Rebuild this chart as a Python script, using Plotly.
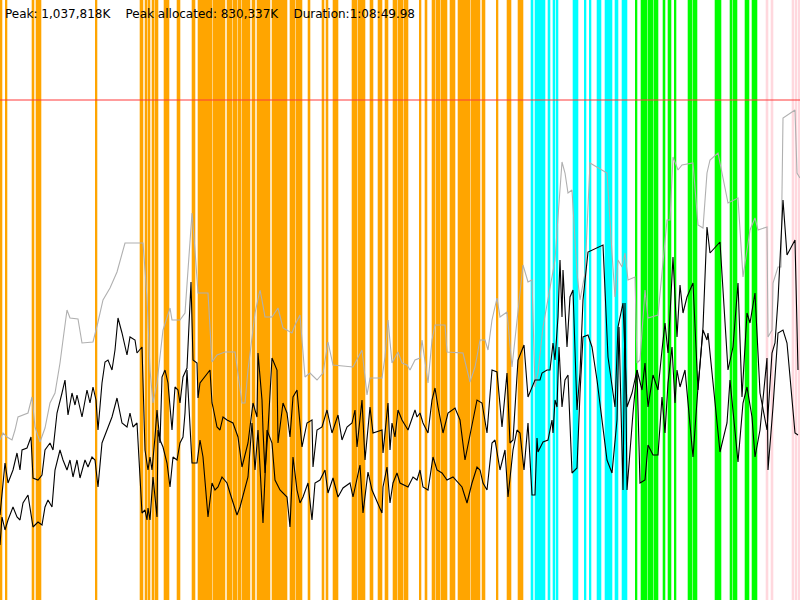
import plotly.graph_objects as go

# ---- event bands (start, end) in timeline units (0..800) ----
orange_start = [0, 6, 32, 36, 96, 140, 145, 148, 152, 155, 164, 177, 192, 198,
                213, 227, 233, 238, 242, 252, 257, 272, 290, 296,
                308, 322, 326, 333, 352, 358, 370, 378, 385, 393, 398,
                404, 420, 425, 432, 436, 441, 450, 458, 471, 482, 497, 507, 518]
orange_end = [2, 7, 34, 41, 97, 143, 147, 150, 154, 158, 169, 180, 195, 212,
              225, 232, 237, 241, 250, 255, 270, 287, 295, 302,
              310, 324, 328, 338, 357, 365, 373, 382, 388, 397, 403,
              408, 421, 427, 435, 440, 447, 455, 470, 480, 485, 498, 511, 523]
cyan_start = [531, 535, 548, 553, 557, 573, 585, 590, 597, 605, 615, 622]
cyan_end = [533, 545, 550, 555, 558, 578, 586, 591, 601, 612, 618, 627]
green_start = [636, 641, 648, 654, 663, 668, 675, 688, 693, 715, 730, 733, 745, 752]
green_end = [637, 647, 653, 658, 665, 671, 676, 692, 697, 721, 732, 737, 749, 757]
pink_start = [766, 771, 792, 796, 799]
pink_end = [768, 773, 794, 797, 800]

# ---- memory series (timeline x, level measured downward from top) ----
gray_x = [0, 3, 7, 12, 15, 18, 28, 32, 35, 40, 45, 50, 55, 60, 63, 67, 70, 78, 82, 93, 98, 103, 110, 117, 125,
          143, 147, 150, 153, 157, 163, 170, 172, 180, 185, 189, 192, 195, 198, 208, 212, 217, 225, 235, 242,
          245, 248, 255, 258, 260, 262, 265, 272, 278, 283, 292, 295, 300, 305, 310, 317, 323, 328, 333, 353, 362,
          367, 370, 382, 385, 388, 392, 398, 402, 407, 410, 415, 420, 422, 428, 432, 435, 445, 447, 463, 470,
          475, 480, 485, 488, 492, 497, 500, 507, 512, 518, 523, 528, 532, 535, 538, 543, 550, 555, 558, 562,
          565, 568, 572, 577, 580, 585, 590, 603, 607, 612, 615, 618, 622, 625, 628, 635, 637, 640, 645, 648,
          658, 667, 670, 673, 678, 682, 693, 698, 703, 707, 710, 718, 728, 738, 743, 750, 755, 758, 767, 768,
          772, 773, 778, 781, 783, 795, 797, 800]
gray_y = [440, 433, 437, 440, 430, 417, 413, 397, 427, 442, 428, 403, 393, 363, 340, 310, 318, 319, 343, 342, 322, 300, 288, 272, 243,
          243, 297, 370, 403, 383, 330, 308, 320, 320, 313, 250, 213, 250, 293, 293, 362, 355, 352, 352, 403,
          403, 370, 313, 300, 290, 300, 317, 317, 308, 328, 333, 325, 315, 377, 373, 380, 373, 342, 365, 367, 350,
          395, 378, 378, 357, 320, 363, 352, 363, 365, 370, 360, 358, 340, 383, 340, 325, 325, 352, 353, 382,
          367, 340, 340, 350, 320, 298, 317, 312, 367, 312, 265, 282, 280, 387, 373, 327, 290, 260, 217, 162,
          173, 193, 190, 273, 300, 273, 163, 170, 173, 253, 297, 260, 267, 253, 280, 277, 363, 360, 290, 318,
          315, 220, 220, 157, 170, 165, 163, 225, 228, 173, 160, 153, 203, 198, 277, 230, 218, 230, 227, 337,
          330, 283, 267, 267, 118, 110, 173, 178]

upper_x = [0, 5, 8, 13, 17, 20, 22, 27, 31, 33, 38, 42, 45, 50, 53, 57, 62, 65, 68, 72, 75, 77, 82, 87, 90, 93, 96,
           98, 102, 105, 108, 112, 115, 118, 122, 127, 130, 135, 137, 142, 145, 148, 150, 152, 155, 157, 160,
           162, 165, 168, 172, 175, 178, 180, 183, 187, 191, 193, 197, 198, 200, 210, 212, 213, 217, 220, 223,
           227, 233, 238, 242, 248, 253, 257, 258, 262, 263, 265, 268, 272, 277, 278, 283, 287, 290, 293, 297,
           302, 307, 312, 313, 317, 322, 327, 332, 338, 342, 347, 352, 355, 357, 362, 365, 370, 373, 382, 383,
           388, 390, 392, 395, 398, 402, 408, 415, 417, 420, 423, 428, 432, 435, 438, 443, 448, 455, 460, 465,
           472, 477, 482, 487, 492, 497, 502, 507, 510, 513, 518, 524, 528, 532, 535, 540, 542, 547, 550, 553,
           555, 558, 560, 562, 563, 567, 570, 573, 577, 580, 583, 588, 603, 608, 615, 618, 623, 627, 632, 637,
           642, 645, 648, 653, 658, 662, 665, 668, 671, 673, 677, 680, 683, 687, 693, 698, 703, 707, 710, 720,
           728, 733, 738, 742, 747, 750, 755, 760, 767, 772, 775, 778, 783, 787, 795, 798]
upper_y = [515, 463, 483, 470, 453, 470, 450, 448, 437, 478, 480, 475, 450, 443, 450, 413, 393, 380, 415, 393, 405, 395, 417, 390, 403, 387, 400,
           430, 383, 362, 360, 370, 350, 318, 333, 355, 337, 340, 353, 347, 450, 470, 457, 470, 437, 410, 443,
           377, 370, 383, 430, 387, 390, 403, 377, 368, 282, 360, 363, 398, 383, 370, 403, 407, 427, 430, 417,
           420, 423, 437, 467, 443, 403, 417, 353, 400, 430, 473, 430, 358, 370, 443, 403, 413, 437, 397, 390,
           447, 423, 420, 467, 430, 427, 410, 433, 415, 440, 427, 423, 410, 447, 400, 460, 407, 433, 430, 453,
           403, 450, 423, 437, 410, 420, 430, 410, 417, 413, 423, 433, 400, 388, 407, 433, 413, 408, 420, 460,
           427, 400, 403, 433, 370, 372, 427, 373, 443, 440, 360, 345, 397, 387, 380, 380, 373, 370, 370, 343,
           360, 317, 260, 317, 270, 347, 297, 290, 410, 373, 300, 252, 245, 357, 407, 327, 303, 407, 393, 370,
           390, 363, 407, 375, 390, 350, 323, 353, 297, 257, 337, 285, 313, 297, 283, 390, 327, 227, 253, 242,
           370, 347, 283, 397, 313, 323, 293, 393, 430, 353, 343, 300, 200, 255, 240, 370]

lower_x = [0, 2, 5, 8, 13, 17, 20, 23, 28, 33, 38, 42, 45, 48, 52, 55, 60, 63, 67, 70, 73, 77, 80, 85, 88, 92, 95,
           98, 102, 107, 112, 117, 122, 127, 130, 133, 137, 142, 145, 147, 148, 150, 153, 157, 158, 160, 163,
           167, 170, 173, 177, 180, 183, 185, 187, 192, 197, 200, 203, 208, 212, 215, 218, 222, 227, 230, 237,
           240, 245, 248, 252, 255, 258, 263, 267, 272, 275, 280, 287, 290, 293, 297, 300, 303, 308, 312, 315,
           320, 325, 328, 333, 338, 343, 350, 353, 360, 363, 368, 372, 375, 382, 383, 387, 390, 393, 397, 400,
           408, 413, 417, 420, 423, 428, 433, 437, 442, 447, 453, 462, 467, 472, 477, 480, 483, 487, 492, 495,
           500, 505, 508, 513, 517, 520, 524, 528, 532, 535, 537, 538, 543, 548, 552, 553, 555, 557, 559, 562,
           565, 568, 572, 577, 580, 583, 588, 592, 597, 607, 612, 617, 619, 623, 625, 627, 633, 637, 640, 645,
           648, 653, 658, 662, 665, 668, 672, 675, 677, 680, 685, 693, 698, 703, 707, 708, 720, 727, 730, 738,
           743, 747, 752, 755, 760, 767, 768, 773, 778, 783, 787, 795, 798]
lower_y = [545, 517, 530, 520, 507, 517, 520, 503, 495, 527, 522, 525, 507, 500, 507, 470, 450, 460, 470, 460, 477, 460, 478, 460, 467, 457, 460,
           487, 443, 430, 417, 398, 423, 427, 413, 427, 423, 513, 510, 520, 508, 520, 477, 517, 430, 440, 447,
           463, 487, 457, 460, 443, 437, 413, 370, 463, 463, 440, 457, 517, 483, 490, 487, 477, 483, 493, 515,
           507, 487, 477, 423, 470, 430, 523, 430, 443, 480, 490, 497, 527, 457, 490, 503, 497, 483, 520, 483,
           480, 470, 493, 478, 497, 488, 483, 497, 465, 513, 472, 490, 497, 513, 487, 467, 503, 483, 473, 483,
           487, 477, 480, 470, 487, 490, 457, 470, 473, 480, 477, 487, 503, 483, 467, 470, 483, 490, 443, 440,
           470, 450, 497, 450, 430, 433, 470, 423, 495, 495, 438, 452, 442, 440, 420, 433, 400, 407, 347, 407,
           380, 375, 473, 468, 393, 337, 335, 347, 380, 460, 473, 420, 327, 490, 303, 490, 413, 370, 483, 480,
           445, 455, 455, 397, 433, 383, 347, 403, 370, 387, 370, 457, 387, 330, 340, 333, 452, 423, 380, 462,
           403, 387, 417, 457, 430, 358, 470, 407, 333, 330, 343, 433, 435]

limit_level = 100
timeline = [0, 800]

title_text = "Peak: 1,037,818K\u00a0\u00a0\u00a0 Peak allocated: 830,337K\u00a0\u00a0\u00a0 Duration:1:08:49.98"

fig = go.Figure()


def band_trace(starts, ends, color):
    centers = [(s + e) / 2 for s, e in zip(starts, ends)]
    widths = [max(e - s, 1) + 0.6 for s, e in zip(starts, ends)]
    return go.Bar(x=centers, width=widths, y=[600] * len(starts), base=0,
                  marker=dict(color=color, line=dict(width=0)),
                  hoverinfo="skip", showlegend=False)


fig.add_trace(band_trace(orange_start, orange_end, "#ffa500"))
fig.add_trace(band_trace(cyan_start, cyan_end, "#00ffff"))
fig.add_trace(band_trace(green_start, green_end, "#00ff00"))
fig.add_trace(band_trace(pink_start, pink_end, "#ffd8de"))

fig.add_trace(go.Scatter(x=timeline, y=[limit_level, limit_level], mode="lines",
                         line=dict(color="#ff3b3b", width=1.2), showlegend=False))
fig.add_trace(go.Scatter(x=gray_x, y=gray_y, mode="lines",
                         line=dict(color="#b0b0b0", width=1.1), showlegend=False))
fig.add_trace(go.Scatter(x=upper_x, y=upper_y, mode="lines",
                         line=dict(color="#000000", width=1.1), showlegend=False))
fig.add_trace(go.Scatter(x=lower_x, y=lower_y, mode="lines",
                         line=dict(color="#000000", width=1.1), showlegend=False))

fig.update_layout(
    width=800, height=600,
    margin=dict(l=0, r=0, t=0, b=0),
    paper_bgcolor="white", plot_bgcolor="white",
    barmode="overlay",
    xaxis=dict(range=[0, 800], visible=False, fixedrange=True),
    yaxis=dict(range=[600, 0], visible=False, fixedrange=True),
    annotations=[dict(text=title_text, xref="paper", yref="paper", x=0, y=1,
                      xanchor="left", yanchor="top", xshift=3, yshift=-5,
                      showarrow=False, align="left",
                      font=dict(family="DejaVu Sans", size=12, color="black"))],
)

fig.write_html("out.html", config={"displayModeBar": False},
               post_script="document.body.style.margin='0';document.body.style.overflow='hidden';")
